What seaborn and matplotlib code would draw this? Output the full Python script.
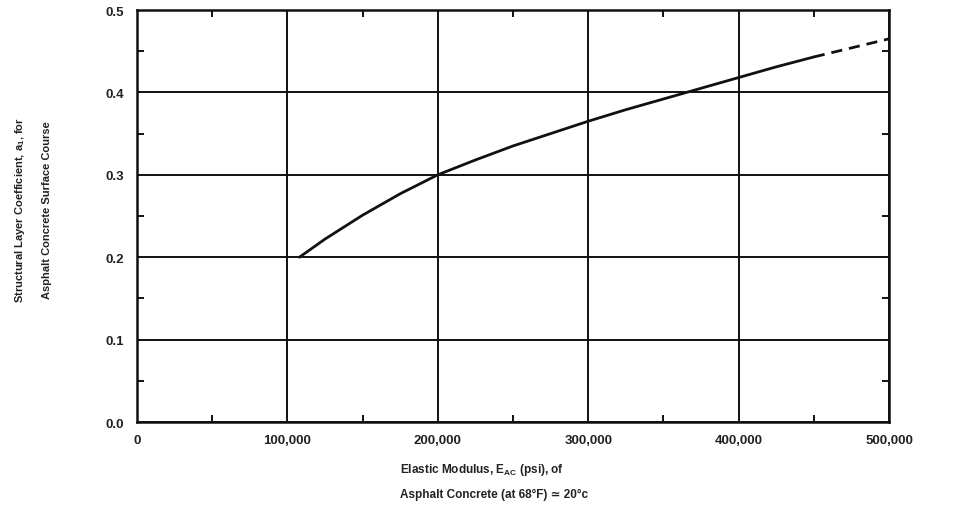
import matplotlib
matplotlib.use("Agg")
import matplotlib.pyplot as plt
import seaborn as sns
import pandas as pd
from matplotlib.ticker import MultipleLocator, FuncFormatter

# --- data ---
modulus_solid = [108000, 125000, 150000, 175000, 200000, 225000, 250000, 275000,
                 300000, 325000, 350000, 375000, 400000, 425000, 450000]
coef_solid = [0.200, 0.222, 0.251, 0.277, 0.300, 0.318, 0.335, 0.350,
              0.365, 0.379, 0.392, 0.405, 0.418, 0.431, 0.443]
modulus_dashed = [450000, 475000, 500000]
coef_dashed = [0.443, 0.454, 0.465]
x_ticks = [0, 100000, 200000, 300000, 400000, 500000]
y_ticks = [0.0, 0.1, 0.2, 0.3, 0.4, 0.5]

sns.set_theme(style="white")
plt.rcParams['font.family'] = ['Liberation Sans', 'DejaVu Sans']
plt.rcParams['mathtext.fontset'] = 'custom'
plt.rcParams['mathtext.rm'] = 'Liberation Sans:bold'
plt.rcParams['mathtext.bf'] = 'Liberation Sans:bold'

fig = plt.figure(figsize=(9.67, 5.10), dpi=100)
ax = fig.add_axes([137/967, 1-423/510, (889-137)/967, (423-11)/510])

df_s = pd.DataFrame({"E": modulus_solid, "a": coef_solid})
df_d = pd.DataFrame({"E": modulus_dashed, "a": coef_dashed})
sns.lineplot(data=df_s, x="E", y="a", ax=ax, color="#111111", lw=2.0)
sns.lineplot(data=df_d, x="E", y="a", ax=ax, color="#111111", lw=2.0, linestyle=(0, (4, 2.5)))

ax.set_xlim(0, 500000)
ax.set_ylim(0, 0.5)
ax.set_xticks(x_ticks)
ax.set_yticks(y_ticks)
ax.xaxis.set_major_formatter(FuncFormatter(lambda v, p: "0" if v == 0 else f"{int(v):,}"))
ax.yaxis.set_major_formatter(FuncFormatter(lambda v, p: f"{v:.1f}"))
ax.xaxis.set_minor_locator(MultipleLocator(50000))
ax.yaxis.set_minor_locator(MultipleLocator(0.05))

ax.grid(True, which="major", color="#111111", lw=1.4)
for s in ax.spines.values():
    s.set_visible(True)
    s.set_color("#111111")
    s.set_linewidth(1.8)

ax.tick_params(which="major", length=0, labelsize=9.5, colors="#222222", pad=9)
ax.tick_params(which="minor", direction="in", length=5, width=1.4, color="#111111",
               top=True, right=True, bottom=True, left=True)
for lab in ax.get_xticklabels() + ax.get_yticklabels():
    lab.set_fontweight("bold")
ax.set_xlabel("")
ax.set_ylabel("")

fig.text(20/967, 1-210/510, r"Structural Layer Coefficient, a$_1$, for", rotation=90,
         ha="center", va="center", fontsize=8, fontweight="bold", color="#222222")
fig.text(47/967, 1-210/510, "Asphalt Concrete Surface Course", rotation=90,
         ha="center", va="center", fontsize=8, fontweight="bold", color="#222222")

fig.text(400/967, 1-470/510, r"Elastic Modulus, E$_{\mathbf{AC}}$ (psi), of",
         ha="left", va="center", fontsize=8.5, fontweight="bold", color="#222222")
fig.text(400/967, 1-495/510, "Asphalt Concrete (at 68°F) ≃ 20°c",
         ha="left", va="center", fontsize=8.5, fontweight="bold", color="#222222")

fig.savefig("out.png", dpi=100, facecolor="white")
